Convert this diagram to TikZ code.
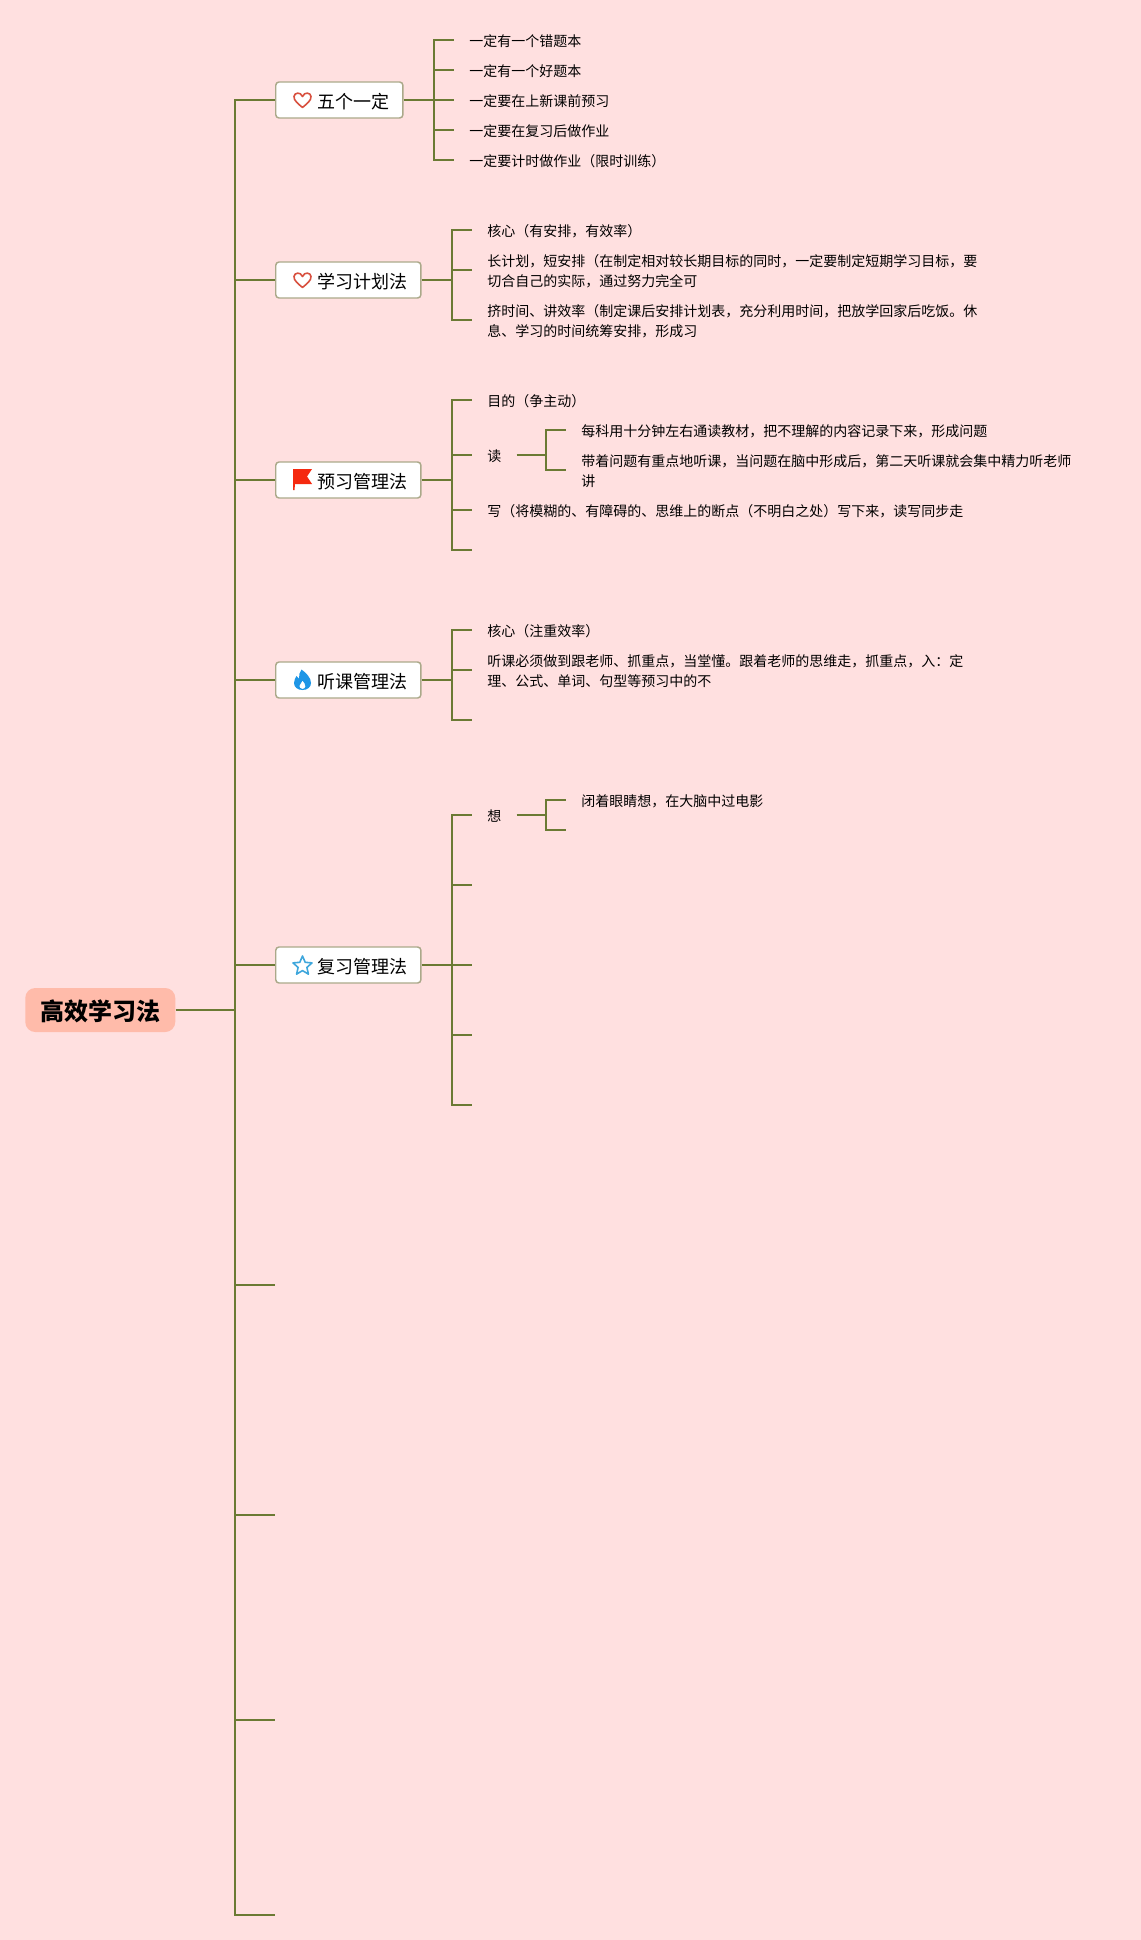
\documentclass[tikz,border=0pt]{standalone}
\usepackage{fontspec}
\setmainfont{Noto Sans CJK SC}
\definecolor{bgc}{HTML}{FFE0E0}
\definecolor{linec}{HTML}{6B7A34}
\definecolor{rootc}{HTML}{FFBBAA}
\definecolor{boxc}{HTML}{ABA98A}
\definecolor{heartc}{HTML}{D8503F}
\definecolor{flagc}{HTML}{F5290F}
\definecolor{flamec}{HTML}{1E96E6}
\definecolor{starc}{HTML}{3FA7DC}
\tikzset{
  conn/.style={draw=linec,line width=1.5pt},
  rootbox/.style={fill=rootc,rounded corners=7.5pt,inner xsep=11.25pt,inner ysep=0pt,minimum height=33pt,anchor=west,font=\fontsize{18pt}{22pt}\selectfont\bfseries},
  topicbox/.style={fill=white,draw=boxc,line width=1.1pt,rounded corners=2.5pt,inner xsep=10.2pt,inner ysep=0pt,minimum height=27pt,anchor=west,font=\fontsize{13.5pt}{16pt}\selectfont},
  leaf/.style={anchor=west,inner xsep=11.25pt,inner ysep=0pt,align=left,yshift=-0.9pt,font=\fontsize{10.5pt}{15pt}\selectfont},
  leafend/.style={yshift=-0.9pt},
  iconline/.style={line width=1.2pt,line join=round,fill=none},
}
\newcommand{\tlabel}[1]{\hspace*{21pt}\raisebox{-0.9pt}[\height][\depth]{#1}}
\begin{document}
\begin{tikzpicture}[x=0.75pt,y=-0.75pt]
\useasboundingbox (0,0) rectangle (1141,1940);
\fill[bgc] (0,0) rectangle (1141,1940);
% root and topics
\node[rootbox] (root) at (25,1010) {\raisebox{-0.9pt}[\height][\depth]{高效学习法}};
\node[topicbox] (t1) at (275,100) {\tlabel{五个一定}};
\node[topicbox] (t2) at (275,280) {\tlabel{学习计划法}};
\node[topicbox] (t3) at (275,480) {\tlabel{预习管理法}};
\node[topicbox] (t4) at (275,680) {\tlabel{听课管理法}};
\node[topicbox] (t5) at (275,965) {\tlabel{复习管理法}};
% trunk
\coordinate (tr) at (235,1010);
\coordinate (e6) at (275,1285);
\coordinate (e7) at (275,1515);
\coordinate (e8) at (275,1720);
\coordinate (e9) at (275,1915);
\draw[conn] (root.east) -- (tr);
\foreach \n in {t1,t2,t3,t4,t5,e6,e7,e8,e9} {\draw[conn] (tr) |- (\n.west);}
% group 1
\node[leaf] (a1) at (454,40) {一定有一个错题本};
\node[leaf] (a2) at (454,70) {一定有一个好题本};
\node[leaf] (a3) at (454,100) {一定要在上新课前预习};
\node[leaf] (a4) at (454,130) {一定要在复习后做作业};
\node[leaf] (a5) at (454,160) {一定要计时做作业（限时训练）};
\coordinate (ba) at (434,100);
\draw[conn] (t1.east) -- ([yshift=0.9pt]a3.west);
\foreach \n in {a1,a2,a4,a5} {\draw[conn] (ba) |- ([yshift=0.9pt]\n.west);}
% group 2
\node[leaf] (b1) at (472,230) {核心（有安排，有效率）};
\node[leaf] (b2) at (472,270) {长计划，短安排（在制定相对较长期目标的同时，一定要制定短期学习目标，要\\切合自己的实际，通过努力完全可};
\node[leaf] (b3) at (472,320) {挤时间、讲效率（制定课后安排计划表，充分利用时间，把放学回家后吃饭。休\\息、学习的时间统筹安排，形成习};
\coordinate (bb) at (452,280);
\draw[conn] (t2.east) -- (bb);
\foreach \n in {b1,b2,b3} {\draw[conn] (bb) |- ([yshift=0.9pt]\n.west);}
% group 3
\node[leaf] (c1) at (472,400) {目的（争主动）};
\node[leaf] (c2) at (472,455) {读};
\node[leaf] (c3) at (472,510) {写（将模糊的、有障碍的、思维上的断点（不明白之处）写下来，读写同步走};
\coordinate[leafend] (c4) at (472,550);
\coordinate (bc) at (452,480);
\draw[conn] (t3.east) -- (bc);
\foreach \n in {c1,c2,c3,c4} {\draw[conn] (bc) |- ([yshift=0.9pt]\n.west);}
\node[leaf] (r1) at (566,430) {每科用十分钟左右通读教材，把不理解的内容记录下来，形成问题};
\node[leaf] (r2) at (566,470) {带着问题有重点地听课，当问题在脑中形成后，第二天听课就会集中精力听老师\\讲};
\coordinate[leafend] (br) at (546,455);
\draw[conn] ([yshift=0.9pt]c2.east) -- ([yshift=0.9pt]br);
\foreach \n in {r1,r2} {\draw[conn] ([yshift=0.9pt]br) |- ([yshift=0.9pt]\n.west);}
% group 4
\node[leaf] (d1) at (472,630) {核心（注重效率）};
\node[leaf] (d2) at (472,670) {听课必须做到跟老师、抓重点，当堂懂。跟着老师的思维走，抓重点，入：定\\理、公式、单词、句型等预习中的不};
\coordinate[leafend] (d3) at (472,720);
\coordinate (bd) at (452,680);
\draw[conn] (t4.east) -- (bd);
\foreach \n in {d1,d2,d3} {\draw[conn] (bd) |- ([yshift=0.9pt]\n.west);}
% group 5
\node[leaf] (f1) at (472,815) {想};
\coordinate[leafend] (f2) at (472,885);
\coordinate[leafend] (f3) at (472,965);
\coordinate[leafend] (f4) at (472,1035);
\coordinate[leafend] (f5) at (472,1105);
\coordinate (bf) at (452,965);
\draw[conn] (t5.east) -- ([yshift=0.9pt]f3);
\foreach \n in {f1,f2,f4,f5} {\draw[conn] (bf) |- ([yshift=0.9pt]\n.west);}
\node[leaf] (g1) at (566,800) {闭着眼睛想，在大脑中过电影};
\coordinate[leafend] (g2) at (566,830);
\coordinate[leafend] (bg) at (546,815);
\draw[conn] ([yshift=0.9pt]f1.east) -- ([yshift=0.9pt]bg);
\draw[conn] ([yshift=0.9pt]bg) |- ([yshift=0.9pt]g1.west);
\draw[conn] ([yshift=0.9pt]bg) |- ([yshift=0.9pt]g2);
% icons
\foreach \cy in {100,280} {
\begin{scope}[shift={(302.5,\cy)}]
\draw[heartc,iconline] (0,7.5) .. controls (-4,4) and (-9,0.5) .. (-8.5,-3.5) .. controls (-8.2,-7.5) and (-2,-8.5) .. (0,-3.5) .. controls (2,-8.5) and (8.2,-7.5) .. (8.5,-3.5) .. controls (9,0.5) and (4,4) .. (0,7.5) -- cycle;
\end{scope}}
\begin{scope}[shift={(293,480)}]
\fill[flagc] (0,-11) -- (19,-11) -- (14,-3.5) -- (19,4) -- (2,4) -- (1.5,10) -- (0,10) -- cycle;
\end{scope}
\begin{scope}[shift={(302.5,680)}]
\fill[flamec,even odd rule] (0,10) .. controls (-5,10) and (-8.5,7) .. (-8.5,3) .. controls (-8.5,0) and (-7,-2) .. (-6,-4) .. controls (-5,-2.5) and (-4.5,-2) .. (-3.5,-1.5) .. controls (-3.5,-5) and (-3,-8) .. (-1,-10.5) .. controls (4,-7) and (8.5,-2) .. (8.5,3) .. controls (8.5,7) and (5,10) .. (0,10) -- cycle
 (0,9) .. controls (-2.5,9) and (-3.5,7) .. (-3,5.5) .. controls (-2.5,4) and (-0.8,2.5) .. (0,0.5) .. controls (1,2.5) and (3.5,4) .. (3,6.5) .. controls (2.7,8) and (1.5,9) .. (0,9) -- cycle;
\end{scope}
\begin{scope}[shift={(302.5,966)}]
\draw[starc,iconline] (0,-10) -- (2.7,-3.7) -- (9.5,-3.1) -- (4.4,1.4) -- (5.9,8.1) -- (0,4.6) -- (-5.9,8.1) -- (-4.4,1.4) -- (-9.5,-3.1) -- (-2.7,-3.7) -- cycle;
\end{scope}
\end{tikzpicture}
\end{document}
